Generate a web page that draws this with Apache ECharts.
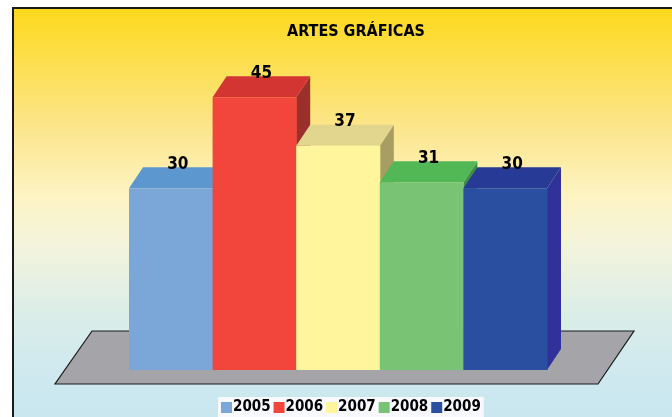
<!DOCTYPE html>
<html>
  <head>
    <meta charset="utf-8" />
    <title>ARTES GRÁFICAS</title>
    <script src="https://cdn.jsdelivr.net/npm/echarts@6/dist/echarts.min.js"></script>
    <style>
      html, body { margin: 0; padding: 0; background: #fff; }
    </style>
  </head>
  <body>
    <div id="main" style="width:672px;height:417px;"></div>
    <script type="text/javascript">
      var years = ['2005', '2006', '2007', '2008', '2009'];
      var values = [30, 45, 37, 31, 30];
      // front, top, side
      var frontColors = ['#7BA7D8', '#F2463C', '#FEF59C', '#79C374', '#2A4EA0'];
      var topColors = ['#5D97D0', '#D33533', '#E2D68F', '#52B755', '#263A96'];
      var sideColors = ['#4F7FB4', '#9A2F2B', '#A89D63', '#3F8F45', '#30329A'];

      var DX = 14, DY = -21;
      var font = '"Liberation Sans Narrow", "DejaVu Sans Condensed", sans-serif';

      var myChart = echarts.init(document.getElementById('main'));

      var series = [{
        name: 'floor',
        type: 'custom',
        silent: true,
        z: 1,
        data: [0],
        renderItem: function (params, api) {
          var l = api.coord([0, 0]);
          var r = api.coord([4, 0]);
          var w = api.size([1, 0])[0];
          var x0 = l[0] - w / 2, x1 = r[0] + w / 2, y = l[1];
          return {
            type: 'polygon',
            shape: {
              points: [
                [x0 - 74, y + 14], [x1 + 51, y + 14],
                [x1 + 87, y - 39], [x0 - 37, y - 39]
              ]
            },
            style: { fill: '#A5A4A8', stroke: '#1a1a1a', lineWidth: 1.2 }
          };
        }
      }];

      years.forEach(function (year, i) {
        series.push({
          name: year,
          type: 'custom',
          z: 2,
          itemStyle: { color: frontColors[i] },
          data: [[i, values[i]]],
          renderItem: function (params, api) {
            var base = api.coord([api.value(0), 0]);
            var top = api.coord([api.value(0), api.value(1)]);
            var w = api.size([1, 0])[0];
            var x0 = base[0] - w / 2, x1 = base[0] + w / 2;
            var yb = base[1], yt = top[1];
            return {
              type: 'group',
              children: [{
                type: 'polygon',
                shape: { points: [[x1, yb], [x1 + DX, yb + DY], [x1 + DX, yt + DY], [x1, yt]] },
                style: { fill: sideColors[i] }
              }, {
                type: 'polygon',
                shape: { points: [[x0, yt], [x1, yt], [x1 + DX, yt + DY], [x0 + DX, yt + DY]] },
                style: { fill: topColors[i] }
              }, {
                type: 'rect',
                shape: { x: x0, y: yt, width: w + 0.5, height: yb - yt },
                style: { fill: frontColors[i] }
              }, {
                type: 'text',
                z2: 100,
                style: {
                  text: String(api.value(1)),
                  x: base[0] + DX / 2,
                  y: yt + DY - 3,
                  align: 'center',
                  verticalAlign: 'middle',
                  fill: '#000',
                  font: 'bold 17px ' + font
                }
              }]
            };
          }
        });
      });

      var option = {
        backgroundColor: '#fff',
        animation: false,
        graphic: [{
          type: 'rect',
          z: -10,
          shape: { x: 13, y: 8, width: 670, height: 420 },
          style: {
            stroke: '#1a1a1a',
            lineWidth: 2,
            fill: {
              type: 'linear', x: 0, y: 0, x2: 0, y2: 1,
              colorStops: [
                { offset: 0, color: '#FDD91A' },
                { offset: 0.28, color: '#FCE58A' },
                { offset: 0.45, color: '#FDF4C4' },
                { offset: 0.56, color: '#F4F4DC' },
                { offset: 0.72, color: '#DCEEE8' },
                { offset: 0.86, color: '#CFE9EF' },
                { offset: 1, color: '#C8E6EF' }
              ]
            }
          }
        }],
        title: {
          text: 'ARTES GRÁFICAS',
          left: 351,
          textAlign: 'center',
          top: 19,
          textStyle: { fontFamily: font, fontWeight: 'bold', fontSize: 16, color: '#000' }
        },
        legend: {
          data: years,
          bottom: 0,
          left: 218,
          backgroundColor: '#F8F9FE',
          padding: [3, 3, 2, 3],
          itemWidth: 11,
          itemHeight: 11,
          itemGap: 3,
          icon: 'rect',
          textStyle: { fontFamily: font, fontWeight: 'bold', fontSize: 15, color: '#000', padding: [0, 0, 0, -4] }
        },
        grid: { left: 129, right: 125, top: 67, bottom: 47 },
        xAxis: { type: 'category', data: years, show: false },
        yAxis: { type: 'value', min: 0, max: 50, show: false },
        series: series
      };
      myChart.setOption(option);
    </script>
  </body>
</html>
